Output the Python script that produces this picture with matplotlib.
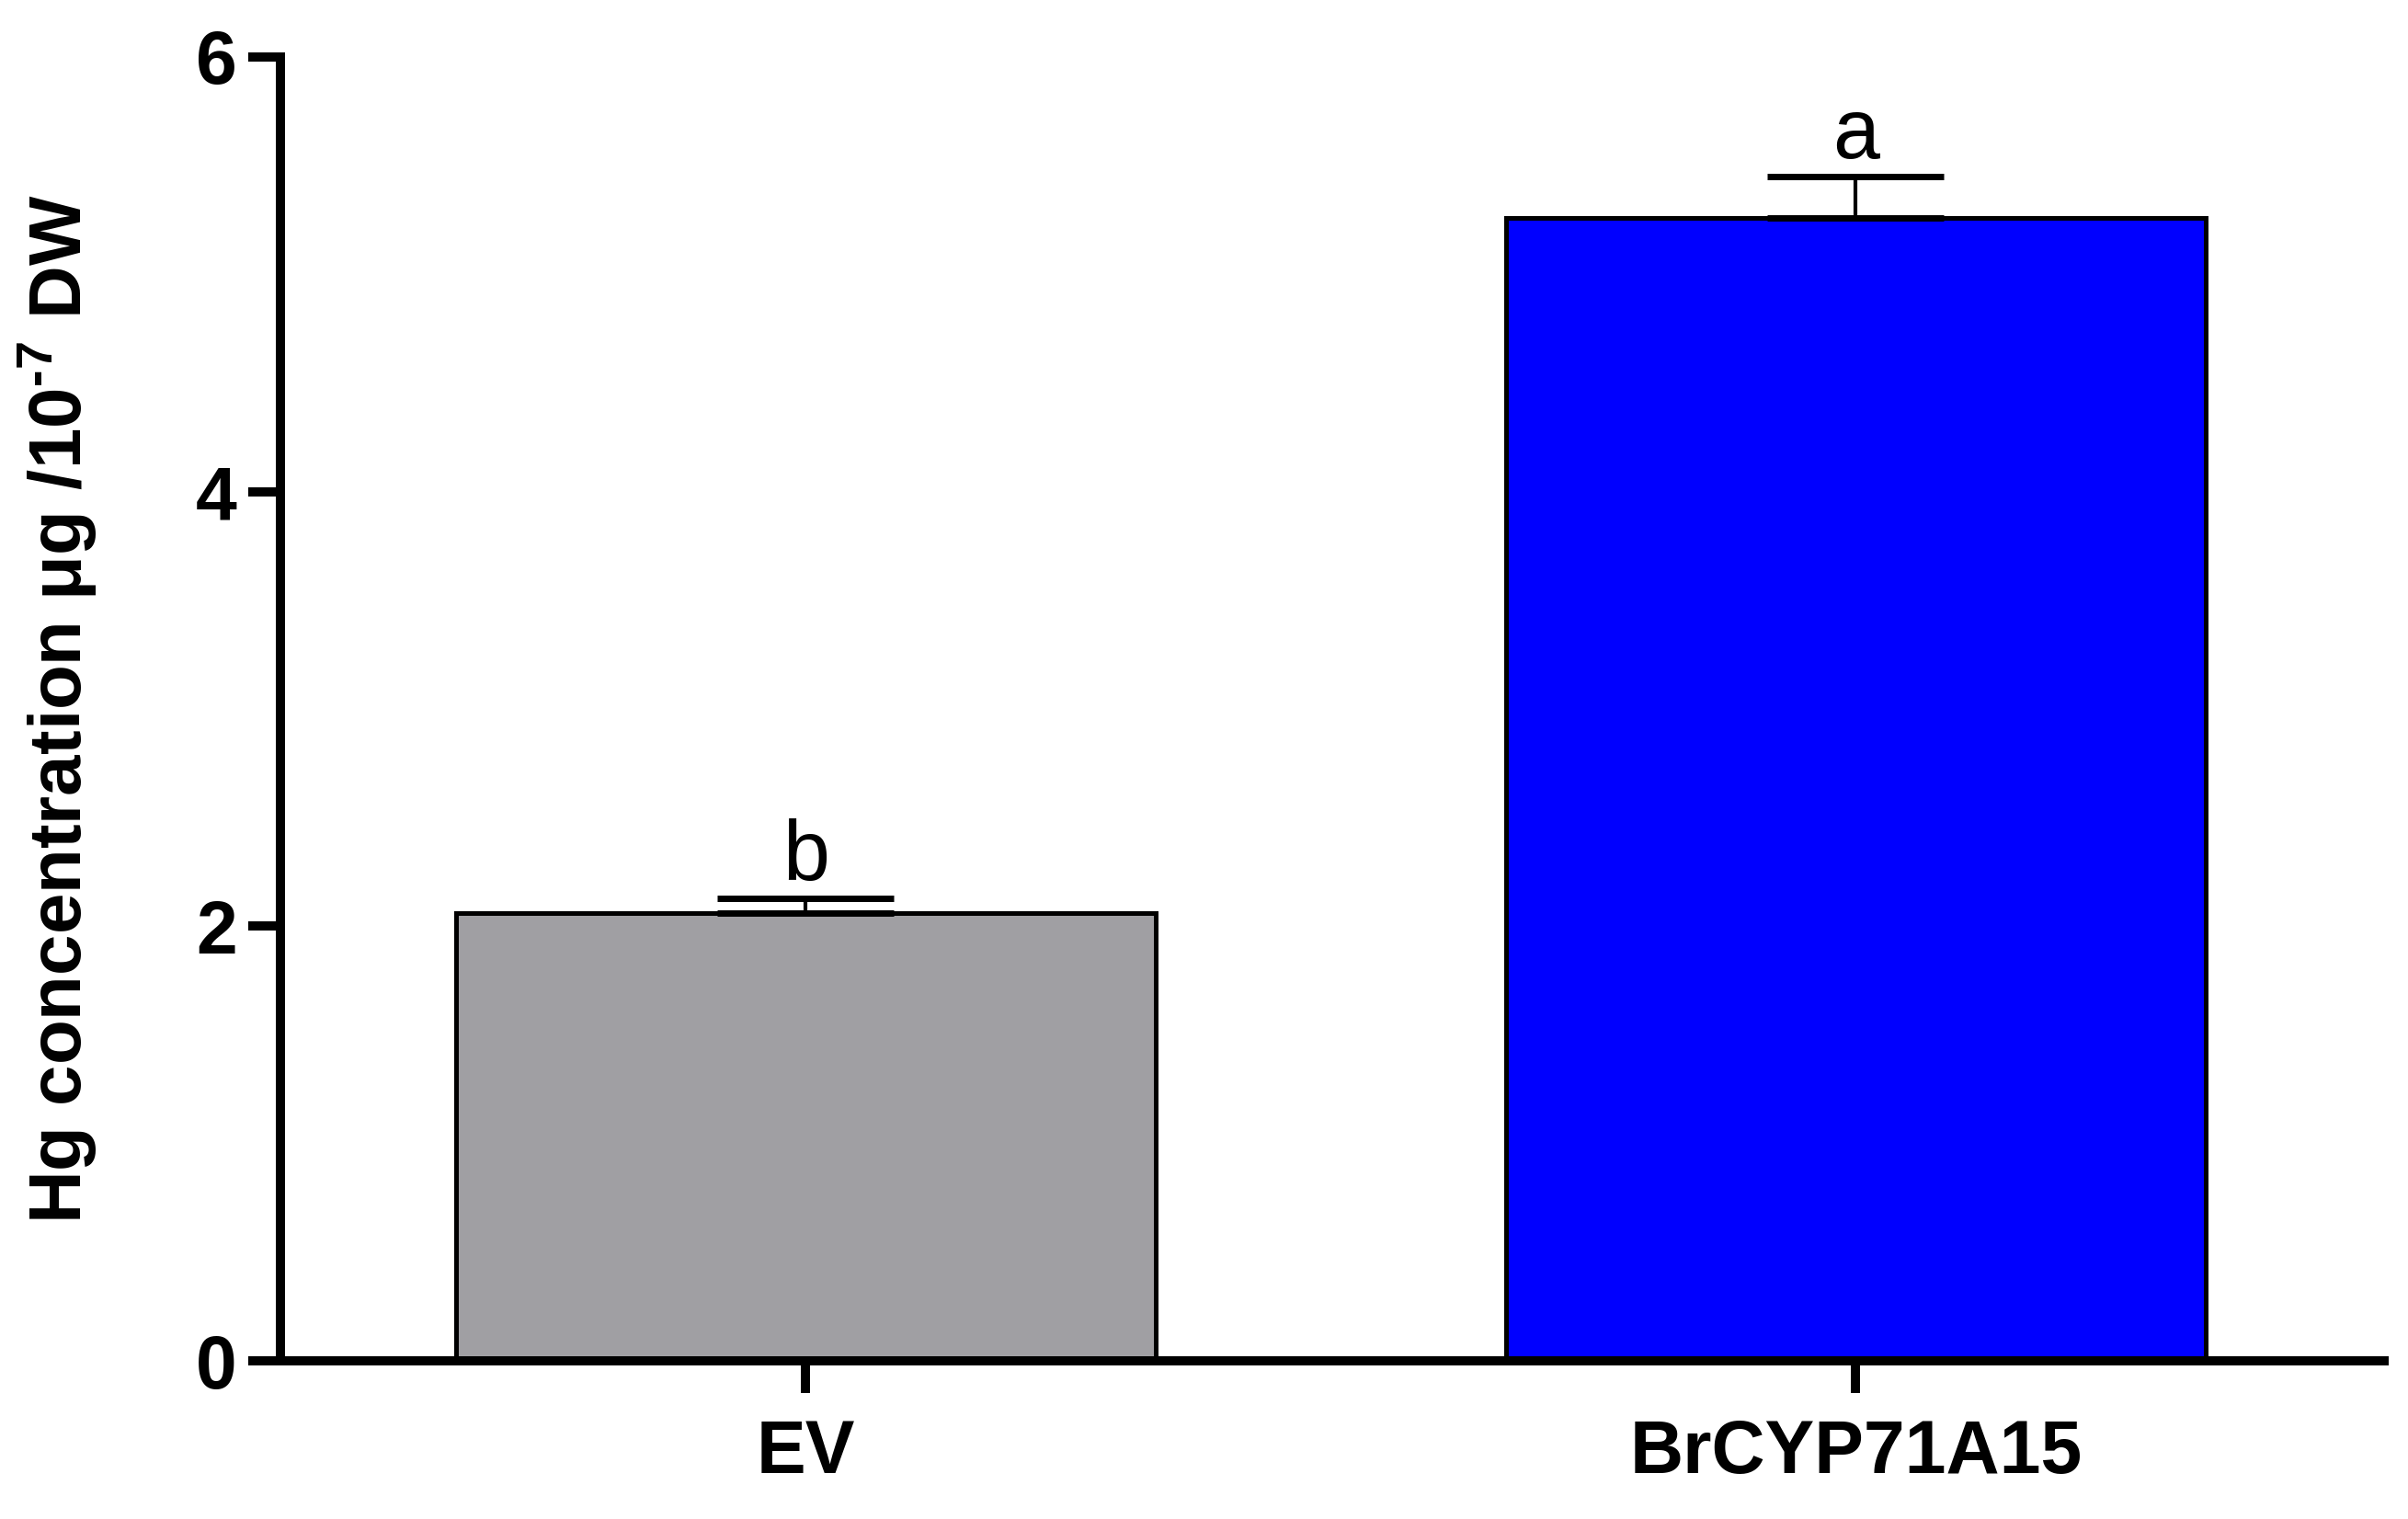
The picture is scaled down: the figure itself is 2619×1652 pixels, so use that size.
import numpy as np
import matplotlib
matplotlib.use("Agg")
import matplotlib.pyplot as plt

# Data
groups = ["EV", "BrCYP71A15"]
means = [2.06, 5.26]
errors = [0.07, 0.19]
letters = ["b", "a"]
bar_colors = ["#a09fa3", "#0000ff"]
y_ticks = [0, 2, 4, 6]

plt.rcParams["font.family"] = ["Liberation Sans", "DejaVu Sans"]
plt.rcParams["mathtext.fontset"] = "custom"
plt.rcParams["mathtext.rm"] = "Liberation Sans:bold"
plt.rcParams["mathtext.bf"] = "Liberation Sans:bold"

fig = plt.figure(figsize=(26.19, 16.52), dpi=100)
ax = fig.add_axes([0.1165, 0.1041, 0.8735, 0.8584])

x = np.arange(len(groups))
ax.bar(x, means, width=0.666, color=bar_colors, edgecolor="black",
       linewidth=3.6, zorder=2)
ax.errorbar(x, means, yerr=[np.zeros(len(errors)), errors], fmt="none",
            ecolor="black", elinewidth=3.0, capsize=69, capthick=5, zorder=3)

for xi, m, e, lab in zip(x, means, errors, letters):
    ax.annotate(lab, (xi, m + e), xytext=(0, 14), textcoords="offset points",
                ha="center", va="baseline", fontsize=66)

ax.set_xlim(-0.5, 1.503)
ax.set_ylim(0, 6)
ax.set_yticks(y_ticks)
ax.set_xticks(x)
ax.set_xticklabels(groups)

for side in ["top", "right"]:
    ax.spines[side].set_visible(False)
for side in ["left", "bottom"]:
    ax.spines[side].set_linewidth(7.2)

ax.tick_params(axis="both", width=7.2, length=25, labelsize=58)
ax.tick_params(axis="y", pad=9)
ax.tick_params(axis="x", pad=20)
for lbl in ax.get_xticklabels() + ax.get_yticklabels():
    lbl.set_fontweight("bold")

ax.set_ylabel(r"Hg concentration μg /10$^{\text{-7}}$ DW", fontsize=57.5,
              fontweight="bold")
ax.yaxis.set_label_coords(-0.086, 0.5)

fig.savefig("out.png", dpi=100)
